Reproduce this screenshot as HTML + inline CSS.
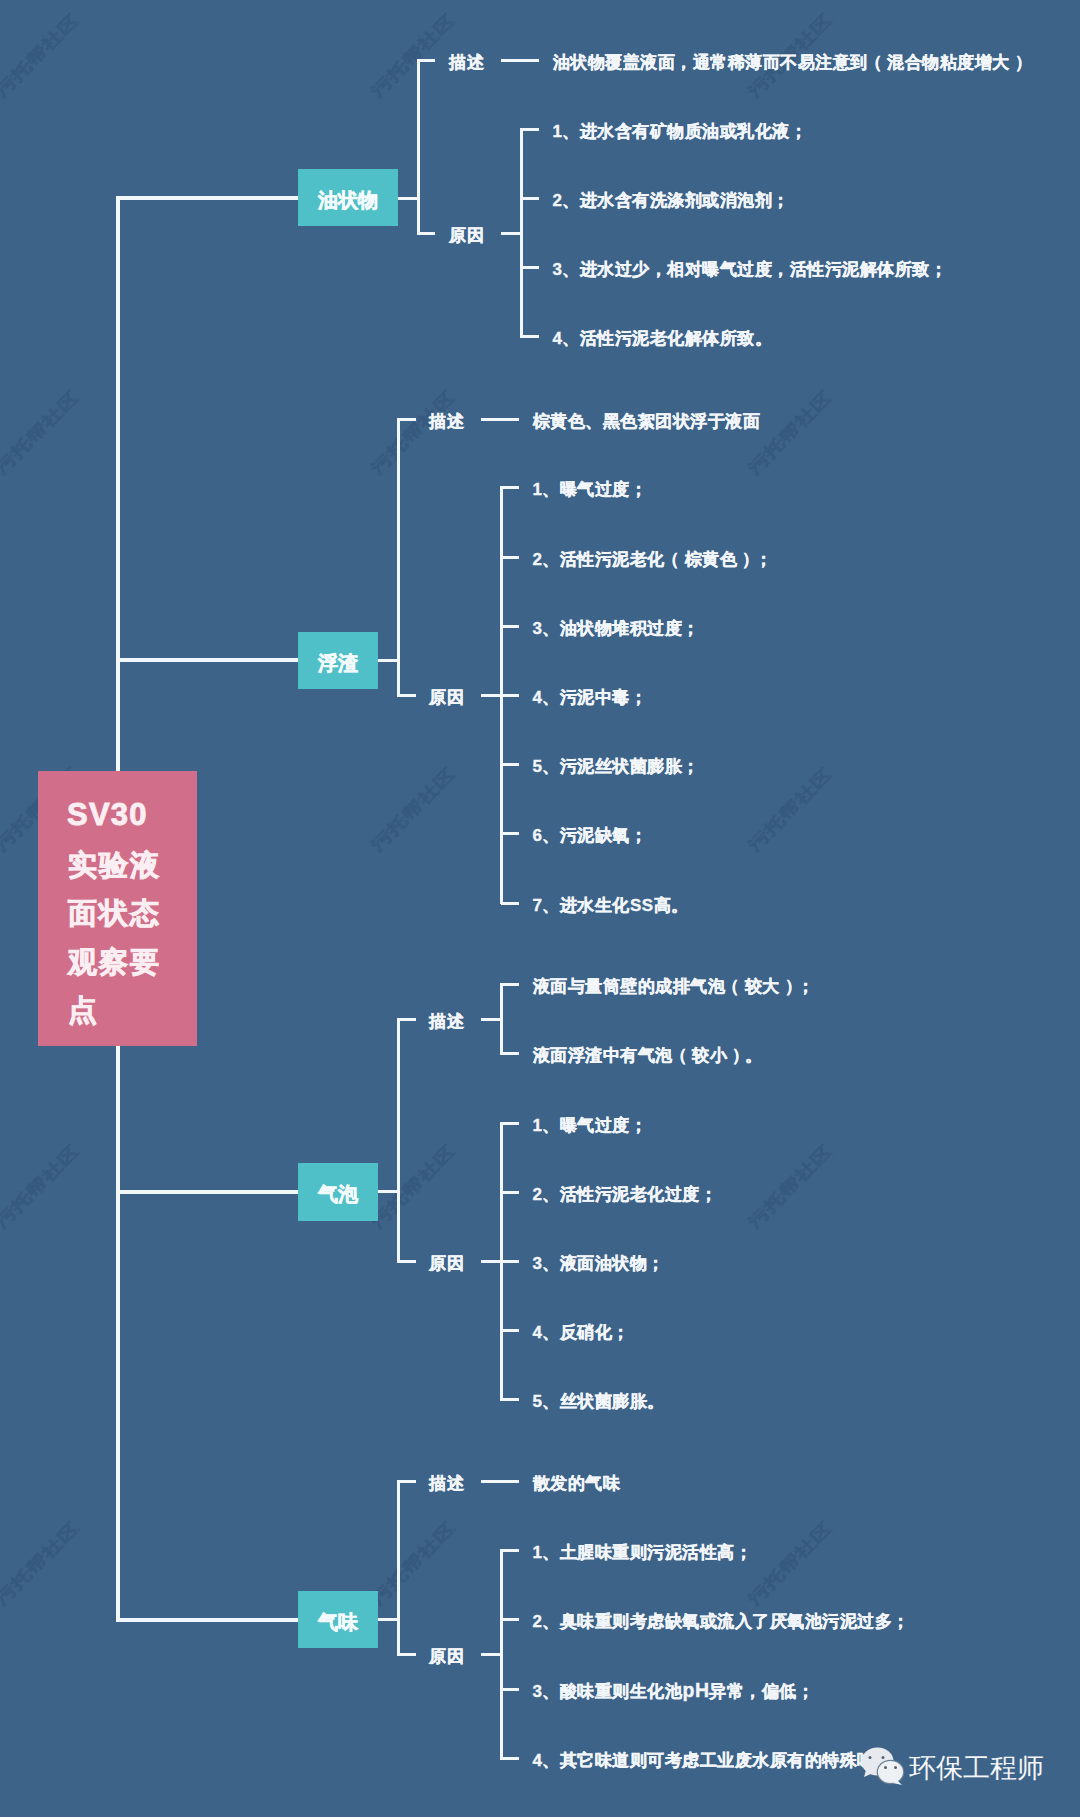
<!DOCTYPE html>
<html><head><meta charset="utf-8"><style>
html,body{margin:0;padding:0;}
body{width:1080px;height:1817px;background:#3e6389;position:relative;overflow:hidden;font-family:"Liberation Sans",sans-serif;}
.wm{position:absolute;width:130px;height:28px;line-height:28px;text-align:center;font-size:20.5px;color:rgba(0,0,0,0);-webkit-text-stroke:1.5px rgba(36,68,104,0.32);transform:rotate(-45deg) scale(1.05,0.8);filter:blur(0.5px);white-space:nowrap;}
.brand{position:absolute;left:909px;top:1750px;font-size:27px;line-height:36px;color:#f3f5f7;white-space:nowrap;}
.lp{position:relative;left:-3px;margin-right:2.4px}
.rp{position:relative;left:5px}
.l{position:absolute;background:#f2f7fb;}
.t{position:absolute;color:#f2f6f9;font-size:17px;letter-spacing:0.5px;font-weight:bold;line-height:26px;-webkit-text-stroke:0.35px #f2f6f9;white-space:nowrap;}
.box{position:absolute;background:#4fbfc8;color:#f4fbfc;font-size:20px;font-weight:bold;-webkit-text-stroke:0.6px #f4fbfc;padding-top:6px;box-sizing:border-box;display:flex;align-items:center;justify-content:center;}
.root{position:absolute;left:38px;top:771px;width:159px;height:275px;background:#d16e89;color:#fbeef2;font-size:28.5px;letter-spacing:2px;font-weight:bold;-webkit-text-stroke:0.9px #fbeef2;box-sizing:border-box;padding:22px 0 0 30px;line-height:48.2px;}
</style></head><body>
<div class="wm" style="left:-28px;top:41px">污托帮社区</div>
<div class="wm" style="left:348px;top:41px">污托帮社区</div>
<div class="wm" style="left:725px;top:41px">污托帮社区</div>
<div class="wm" style="left:-28px;top:418px">污托帮社区</div>
<div class="wm" style="left:348px;top:418px">污托帮社区</div>
<div class="wm" style="left:725px;top:418px">污托帮社区</div>
<div class="wm" style="left:-28px;top:795px">污托帮社区</div>
<div class="wm" style="left:348px;top:795px">污托帮社区</div>
<div class="wm" style="left:725px;top:795px">污托帮社区</div>
<div class="wm" style="left:-28px;top:1172px">污托帮社区</div>
<div class="wm" style="left:348px;top:1172px">污托帮社区</div>
<div class="wm" style="left:725px;top:1172px">污托帮社区</div>
<div class="wm" style="left:-28px;top:1549px">污托帮社区</div>
<div class="wm" style="left:348px;top:1549px">污托帮社区</div>
<div class="wm" style="left:725px;top:1549px">污托帮社区</div>
<div class="l" style="left:116.0px;top:196.0px;width:4px;height:1425.8px"></div>
<div class="l" style="left:118.0px;top:196.0px;width:180.0px;height:4px"></div>
<div class="box" style="left:298px;top:169px;width:100px;height:57px">油状物</div>
<div class="l" style="left:398.0px;top:196.5px;width:20.3px;height:3px"></div>
<div class="l" style="left:416.8px;top:58.5px;width:3px;height:176.0px"></div>
<div class="l" style="left:418.3px;top:58.5px;width:17.2px;height:3px"></div>
<div class="l" style="left:418.3px;top:231.5px;width:17.2px;height:3px"></div>
<div class="t" style="left:449.0px;top:49.5px">描述</div>
<div class="t" style="left:449.0px;top:222.5px">原因</div>
<div class="l" style="left:501.0px;top:58.5px;width:38.0px;height:3px"></div>
<div class="t" style="left:552.5px;top:49.5px">油状物覆盖液面，通常稀薄而不易注意到<span class="lp">（</span>混合物粘度增大<span class="rp">）</span></div>
<div class="l" style="left:501.0px;top:231.5px;width:20.3px;height:3px"></div>
<div class="l" style="left:519.8px;top:127.5px;width:3px;height:210.6px"></div>
<div class="l" style="left:521.3px;top:127.5px;width:17.7px;height:3px"></div>
<div class="t" style="left:552.5px;top:118.5px">1、进水含有矿物质油或乳化液；</div>
<div class="l" style="left:521.3px;top:196.7px;width:17.7px;height:3px"></div>
<div class="t" style="left:552.5px;top:187.7px">2、进水含有洗涤剂或消泡剂；</div>
<div class="l" style="left:521.3px;top:265.9px;width:17.7px;height:3px"></div>
<div class="t" style="left:552.5px;top:256.9px">3、进水过少，相对曝气过度，活性污泥解体所致；</div>
<div class="l" style="left:521.3px;top:335.1px;width:17.7px;height:3px"></div>
<div class="t" style="left:552.5px;top:326.1px">4、活性污泥老化解体所致。</div>
<div class="l" style="left:118.0px;top:658.3px;width:180.0px;height:4px"></div>
<div class="box" style="left:298px;top:632px;width:80px;height:57px">浮渣</div>
<div class="l" style="left:378.0px;top:658.8px;width:20.0px;height:3px"></div>
<div class="l" style="left:396.5px;top:417.5px;width:3px;height:279.4px"></div>
<div class="l" style="left:398.0px;top:417.5px;width:17.5px;height:3px"></div>
<div class="l" style="left:398.0px;top:693.9px;width:17.5px;height:3px"></div>
<div class="t" style="left:429.0px;top:408.5px">描述</div>
<div class="t" style="left:429.0px;top:684.9px">原因</div>
<div class="l" style="left:481.0px;top:417.5px;width:38.0px;height:3px"></div>
<div class="t" style="left:532.5px;top:408.5px">棕黄色、黑色絮团状浮于液面</div>
<div class="l" style="left:481.0px;top:693.9px;width:20.0px;height:3px"></div>
<div class="l" style="left:499.5px;top:486.3px;width:3px;height:418.2px"></div>
<div class="l" style="left:501.0px;top:486.3px;width:18.0px;height:3px"></div>
<div class="t" style="left:532.5px;top:477.3px">1、曝气过度；</div>
<div class="l" style="left:501.0px;top:555.5px;width:18.0px;height:3px"></div>
<div class="t" style="left:532.5px;top:546.5px">2、活性污泥老化<span class="lp">（</span>棕黄色<span class="rp">）</span>；</div>
<div class="l" style="left:501.0px;top:624.7px;width:18.0px;height:3px"></div>
<div class="t" style="left:532.5px;top:615.7px">3、油状物堆积过度；</div>
<div class="l" style="left:501.0px;top:693.9px;width:18.0px;height:3px"></div>
<div class="t" style="left:532.5px;top:684.9px">4、污泥中毒；</div>
<div class="l" style="left:501.0px;top:763.1px;width:18.0px;height:3px"></div>
<div class="t" style="left:532.5px;top:754.1px">5、污泥丝状菌膨胀；</div>
<div class="l" style="left:501.0px;top:832.3px;width:18.0px;height:3px"></div>
<div class="t" style="left:532.5px;top:823.3px">6、污泥缺氧；</div>
<div class="l" style="left:501.0px;top:901.5px;width:18.0px;height:3px"></div>
<div class="t" style="left:532.5px;top:892.5px">7、进水生化SS高。</div>
<div class="l" style="left:118.0px;top:1189.7px;width:180.0px;height:4px"></div>
<div class="box" style="left:298px;top:1162.5px;width:80px;height:58px">气泡</div>
<div class="l" style="left:378.0px;top:1190.2px;width:20.0px;height:3px"></div>
<div class="l" style="left:396.5px;top:1017.6px;width:3px;height:245.3px"></div>
<div class="l" style="left:398.0px;top:1017.6px;width:17.5px;height:3px"></div>
<div class="l" style="left:398.0px;top:1259.9px;width:17.5px;height:3px"></div>
<div class="t" style="left:429.0px;top:1008.6px">描述</div>
<div class="t" style="left:429.0px;top:1250.9px">原因</div>
<div class="l" style="left:481.0px;top:1017.6px;width:20.0px;height:3px"></div>
<div class="l" style="left:499.5px;top:983.0px;width:3px;height:72.2px"></div>
<div class="l" style="left:501.0px;top:983.0px;width:18.0px;height:3px"></div>
<div class="t" style="left:532.5px;top:974.0px">液面与量筒壁的成排气泡<span class="lp">（</span>较大<span class="rp">）</span>；</div>
<div class="l" style="left:501.0px;top:1052.2px;width:18.0px;height:3px"></div>
<div class="t" style="left:532.5px;top:1043.2px">液面浮渣中有气泡<span class="lp">（</span>较小<span class="rp">）</span>。</div>
<div class="l" style="left:481.0px;top:1259.9px;width:20.0px;height:3px"></div>
<div class="l" style="left:499.5px;top:1121.5px;width:3px;height:279.8px"></div>
<div class="l" style="left:501.0px;top:1121.5px;width:18.0px;height:3px"></div>
<div class="t" style="left:532.5px;top:1112.5px">1、曝气过度；</div>
<div class="l" style="left:501.0px;top:1190.7px;width:18.0px;height:3px"></div>
<div class="t" style="left:532.5px;top:1181.7px">2、活性污泥老化过度；</div>
<div class="l" style="left:501.0px;top:1259.9px;width:18.0px;height:3px"></div>
<div class="t" style="left:532.5px;top:1250.9px">3、液面油状物；</div>
<div class="l" style="left:501.0px;top:1329.1px;width:18.0px;height:3px"></div>
<div class="t" style="left:532.5px;top:1320.1px">4、反硝化；</div>
<div class="l" style="left:501.0px;top:1398.3px;width:18.0px;height:3px"></div>
<div class="t" style="left:532.5px;top:1389.3px">5、丝状菌膨胀。</div>
<div class="l" style="left:118.0px;top:1617.8px;width:180.0px;height:4px"></div>
<div class="box" style="left:298px;top:1591px;width:80px;height:57px">气味</div>
<div class="l" style="left:378.0px;top:1618.3px;width:20.0px;height:3px"></div>
<div class="l" style="left:396.5px;top:1480.0px;width:3px;height:176.0px"></div>
<div class="l" style="left:398.0px;top:1480.0px;width:17.5px;height:3px"></div>
<div class="l" style="left:398.0px;top:1653.0px;width:17.5px;height:3px"></div>
<div class="t" style="left:429.0px;top:1471.0px">描述</div>
<div class="t" style="left:429.0px;top:1644.0px">原因</div>
<div class="l" style="left:481.0px;top:1480.0px;width:38.0px;height:3px"></div>
<div class="t" style="left:532.5px;top:1471.0px">散发的气味</div>
<div class="l" style="left:481.0px;top:1653.0px;width:20.0px;height:3px"></div>
<div class="l" style="left:499.5px;top:1549.2px;width:3px;height:210.6px"></div>
<div class="l" style="left:501.0px;top:1549.2px;width:18.0px;height:3px"></div>
<div class="t" style="left:532.5px;top:1540.2px">1、土腥味重则污泥活性高；</div>
<div class="l" style="left:501.0px;top:1618.4px;width:18.0px;height:3px"></div>
<div class="t" style="left:532.5px;top:1609.4px">2、臭味重则考虑缺氧或流入了厌氧池污泥过多；</div>
<div class="l" style="left:501.0px;top:1687.6px;width:18.0px;height:3px"></div>
<div class="t" style="left:532.5px;top:1678.6px">3、酸味重则生化池<span style="font-size:19.5px;line-height:0">pH</span>异常，偏低；</div>
<div class="l" style="left:501.0px;top:1756.8px;width:18.0px;height:3px"></div>
<div class="t" style="left:532.5px;top:1747.8px">4、其它味道则可考虑工业废水原有的特殊味道</div>
<div class="root"><div style="letter-spacing:1.2px;font-size:31px;position:relative;top:-2px;left:-1px">SV30</div><div>实验液</div><div>面状态</div><div>观察要</div><div>点</div></div>
<svg class="logo" width="60" height="50" viewBox="0 0 60 50" style="position:absolute;left:855px;top:1742px">
<ellipse cx="22.5" cy="19.5" rx="16" ry="14" fill="#e6eaee"/>
<path d="M11 28 L9 35 L18 31 Z" fill="#e6eaee"/>
<circle cx="15" cy="15.5" r="1.5" fill="#556270"/><circle cx="28" cy="15.5" r="1.5" fill="#556270"/>
<ellipse cx="35.5" cy="30" rx="13.8" ry="12.2" fill="#6a7f95" />
<ellipse cx="35.5" cy="30" rx="12.6" ry="11" fill="#eef1f3"/>
<path d="M42 38 L47 43 L38 41 Z" fill="#eef1f3"/>
<circle cx="30.5" cy="25.5" r="1.5" fill="#556270"/><circle cx="40.5" cy="25.5" r="1.5" fill="#556270"/>
</svg>
<div class="brand">环保工程师</div>
</body></html>
